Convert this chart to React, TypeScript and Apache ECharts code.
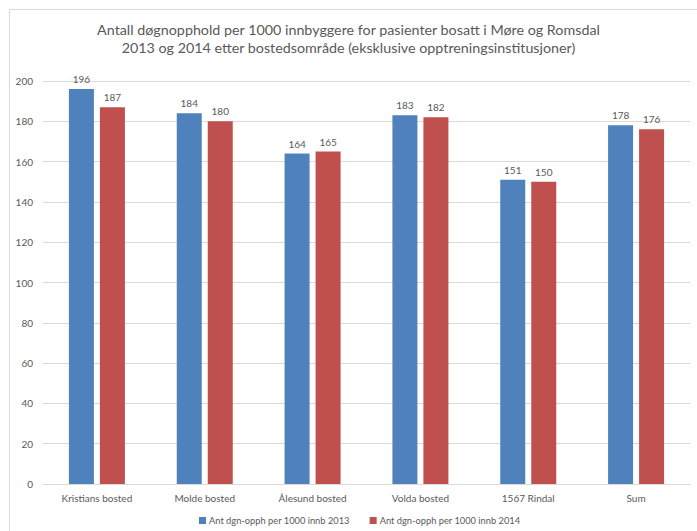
import React, { useEffect, useRef } from "react";
import * as echarts from "echarts";

const categories = ["Kristians bosted", "Molde bosted", "Ålesund bosted", "Volda bosted", "1567 Rindal", "Sum"];
const values2013 = [196, 184, 164, 183, 151, 178];
const values2014 = [187, 180, 165, 182, 150, 176];
const seriesNames = ["Ant dgn-opph per 1000 innb 2013", "Ant dgn-opph per 1000 innb 2014"];
const titleLines = [
  "Antall døgnopphold per 1000 innbyggere for pasienter bosatt i Møre og Romsdal",
  "2013 og 2014 etter bostedsområde (eksklusive opptreningsinstitusjoner)",
];

const FONT = "Lato, 'Open Sans', sans-serif";
const GREY = "#595959";

export default function App() {
  const ref = useRef<HTMLDivElement>(null);

  useEffect(() => {
    if (!ref.current) return;
    const chart = echarts.init(ref.current, null, { renderer: "svg" });
    const labelStyle = {
      show: true,
      position: "top" as const,
      color: GREY,
      fontSize: 10,
      fontFamily: FONT,
      distance: 5,
    };
    chart.setOption({
      animation: false,
      backgroundColor: "#ffffff",
      title: {
        text: titleLines.join("\n"),
        left: "center",
        top: 15,
        textStyle: {
          color: GREY,
          fontSize: 14.3,
          fontWeight: "normal",
          fontFamily: FONT,
          lineHeight: 18.5,
        },
      },
      graphic: [
        {
          type: "polyline",
          shape: { points: [[9.5, 531], [9.5, 9.5], [697, 9.5]] },
          style: { stroke: "#d9d9d9", lineWidth: 1, fill: "none" },
          silent: true,
        },
      ],
      legend: {
        top: 511,
        left: 194,
        itemWidth: 7,
        itemHeight: 7,
        itemGap: 20,
        icon: "rect",
        textStyle: { color: GREY, fontSize: 9.3, fontFamily: FONT, padding: [0, 0, 0, -2] },
        data: seriesNames,
      },
      grid: { left: 43, right: 7, top: 81, bottom: 47 },
      xAxis: {
        type: "category",
        data: categories,
        axisLine: { lineStyle: { color: "#d9d9d9" } },
        axisTick: { show: false },
        axisLabel: { color: GREY, fontSize: 10, fontFamily: FONT, margin: 9 },
      },
      yAxis: {
        type: "value",
        min: 0,
        max: 200,
        interval: 20,
        axisLine: { show: false },
        axisTick: { show: false },
        axisLabel: { color: GREY, fontSize: 10, fontFamily: FONT, margin: 10 },
        splitLine: { lineStyle: { color: "#d9d9d9" } },
      },
      series: [
        {
          name: seriesNames[0],
          type: "bar",
          data: values2013,
          barWidth: 25,
          barGap: "24%",
          itemStyle: { color: "#4f81bd" },
          label: labelStyle,
        },
        {
          name: seriesNames[1],
          type: "bar",
          data: values2014,
          barWidth: 25,
          barGap: "24%",
          itemStyle: { color: "#c0504d" },
          label: labelStyle,
        },
      ],
    });
    return () => chart.dispose();
  }, []);

  return (
    <div
      ref={ref}
      style={{ position: "fixed", left: 0, top: 0, width: 697, height: 531 }}
    />
  );
}
